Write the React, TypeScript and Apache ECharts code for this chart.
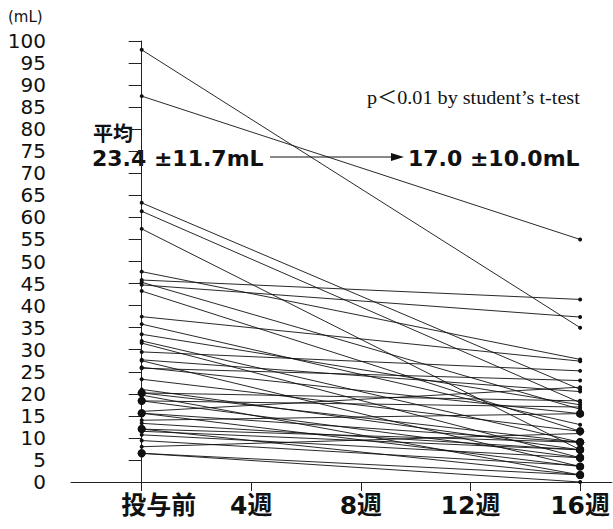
import React, { useEffect, useRef } from "react";
import * as echarts from "echarts";

const weekValues = [0, 4, 8, 12, 16];
const weekLabels = ["投与前", "4週", "8週", "12週", "16週"];
const yTicks = [0, 5, 10, 15, 20, 25, 30, 35, 40, 45, 50, 55, 60, 65, 70, 75, 80, 85, 90, 95, 100];

// volume before treatment (mL)
const preValues = [
  98, 87.5, 63.3, 61.4, 57.4, 47.7, 45.8, 45.3, 44.7, 43.3,
  37.5, 35.8, 33.5, 32, 31.5, 29.5, 27.7, 27.5, 26, 25.8,
  23.3, 21, 20.2, 20.2, 19.7, 18.4, 18.4, 15.6, 15.6, 13.3,
  12, 12, 10.7, 9.4, 6.5, 6.5, 16, 14, 11.5, 8,
];
// volume at 16 weeks (mL)
const postValues = [
  35, 55, 21, 18, 7.3, 27.8, 41.4, 16.5, 37.4, 11.5,
  27.4, 13, 17.5, 9, 5.5, 25.2, 20.5, 3.5, 15.5, 23,
  11.5, 7.3, 18.4, 9, 1.6, 17, 5.5, 9, 3.5, 7.3,
  9, 1.6, 5.5, 3.7, 1.6, 0, 21.5, 15.5, 7.3, 11,
];

const meanBefore = "23.4 ±11.7mL";
const meanAfter = "17.0 ±10.0mL";

export default function App() {
  const ref = useRef<HTMLDivElement>(null);
  useEffect(() => {
    document.body.style.margin = "0";
    const chart = echarts.init(ref.current!, null, { renderer: "svg" });
    const count = (arr: number[], v: number) => arr.filter((a) => a === v).length;
    const series = preValues.map((pre, i) => {
      const post = postValues[i];
      return {
        type: "line",
        data: [
          { value: [0, pre], symbolSize: count(preValues, pre) > 1 ? 8 : 4 },
          { value: [16, post], symbolSize: count(postValues, post) > 1 ? 8 : 4 },
        ],
        symbol: "circle",
        showSymbol: true,
        lineStyle: { color: "#111", width: 0.9 },
        itemStyle: { color: "#111" },
        silent: true,
        z: 3,
      };
    });
    const fontLatin = "'DejaVu Sans', sans-serif";
    const fontMix = "'DejaVu Sans', 'Noto Sans CJK JP', sans-serif";
    chart.setOption({
      animation: false,
      grid: { left: 71, right: 0, top: 41, bottom: 47, containLabel: false },
      xAxis: {
        type: "value",
        min: -2.58,
        max: 17.16,
        splitLine: { show: false },
        axisLine: { show: true, onZero: false, lineStyle: { color: "#222", width: 1 } },
        axisTick: {
          show: true,
          customValues: weekValues,
          length: 9,
          lineStyle: { color: "#222" },
        },
        axisLabel: {
          customValues: weekValues,
          formatter: (v: number) => {
            const idx = weekValues.indexOf(v);
            const t = weekLabels[idx] ?? "";
            return idx === 0 ? "{first|" + t + "}" : t;
          },
          rich: {
            first: {
              padding: [0, 0, 0, 34],
              fontSize: 25,
              color: "#111",
              fontFamily: fontMix,
              fontWeight: "bold",
            },
          },
          fontSize: 25,
          color: "#111",
          margin: 11,
          fontFamily: fontMix,
          fontWeight: "bold",
        },
      },
      yAxis: {
        type: "value",
        min: 0,
        max: 100,
        interval: 5,
        splitLine: { show: false },
        axisLine: { show: true, lineStyle: { color: "#222", width: 1 } },
        axisTick: { show: true, length: 13, lineStyle: { color: "#222" } },
        axisLabel: {
          fontSize: 20,
          color: "#111",
          margin: 25,
          fontFamily: fontLatin,
          formatter: (v: number) => (yTicks.includes(v) ? String(v) : ""),
        },
      },
      graphic: [
        {
          type: "text",
          left: 8,
          top: 9,
          style: { text: "(mL)", fontSize: 15, fill: "#111", fontFamily: fontLatin },
        },
        {
          type: "text",
          left: 367,
          top: 89,
          scaleX: 1.12,
          style: {
            text: "p＜0.01 by student’s t-test",
            fontSize: 18,
            fill: "#111",
            fontFamily: "'Liberation Serif', 'Noto Sans CJK JP', serif",
          },
        },
        {
          type: "text",
          left: 93,
          top: 122,
          style: {
            text: "平均",
            fontSize: 20,
            lineHeight: 20,
            fill: "#111",
            fontFamily: "'Noto Sans CJK JP', sans-serif",
            fontWeight: "bold",
          },
        },
        {
          type: "text",
          left: 92,
          top: 147,
          style: {
            text: meanBefore,
            fontSize: 22,
            lineHeight: 22,
            fill: "#111",
            fontFamily: fontMix,
            fontWeight: "bold",
          },
        },
        {
          type: "line",
          shape: { x1: 270, y1: 157, x2: 396, y2: 157 },
          style: { stroke: "#111", lineWidth: 1 },
        },
        {
          type: "polygon",
          shape: { points: [[404, 157], [391, 153], [391, 161]] },
          style: { fill: "#111" },
        },
        {
          type: "text",
          left: 408,
          top: 147,
          style: {
            text: meanAfter,
            fontSize: 22,
            lineHeight: 22,
            fill: "#111",
            fontFamily: fontMix,
            fontWeight: "bold",
          },
        },
      ],
      series,
    });
    return () => chart.dispose();
  }, []);
  return (
    <div
      ref={ref}
      style={{ position: "absolute", left: 0, top: 0, width: 613, height: 529, background: "#fff" }}
    />
  );
}
